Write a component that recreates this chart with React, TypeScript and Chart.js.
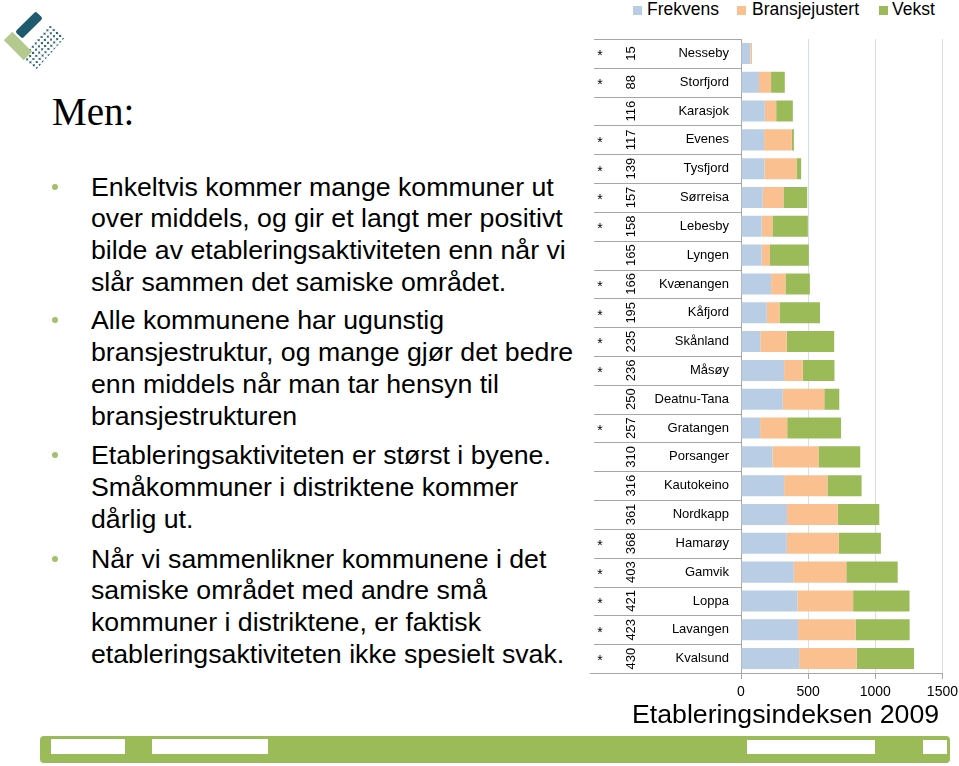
import React, { useEffect, useRef } from "react";
import { Chart, registerables } from "chart.js";

Chart.register(...registerables);

const kommuner = [
  "Nesseby", "Storfjord", "Karasjok", "Evenes", "Tysfjord", "Sørreisa", "Lebesby", "Lyngen",
  "Kvænangen", "Kåfjord", "Skånland", "Måsøy", "Deatnu-Tana", "Gratangen", "Porsanger",
  "Kautokeino", "Nordkapp", "Hamarøy", "Gamvik", "Loppa", "Lavangen", "Kvalsund",
];
const indeks = [15, 88, 116, 117, 139, 157, 158, 165, 166, 195, 235, 236, 250, 257, 310, 316, 361, 368, 403, 421, 423, 430];
const stjerne = [true, true, false, true, true, true, true, false, true, true, true, true, false, true, false, false, false, true, true, true, true, true];
const frekvens = [70, 134, 177, 172, 174, 162, 154, 154, 224, 192, 144, 321, 311, 142, 234, 321, 343, 341, 393, 420, 425, 433];
const bransjejustert = [12, 90, 85, 207, 239, 154, 80, 62, 107, 95, 197, 139, 309, 202, 343, 323, 378, 388, 391, 415, 428, 428];
const vekst = [0, 102, 124, 15, 35, 177, 264, 289, 182, 301, 353, 236, 112, 401, 311, 254, 309, 313, 383, 420, 403, 428];
const xTicks = [0, 500, 1000, 1500];

const seriesNames = ["Frekvens", "Bransjejustert", "Vekst"];
const seriesColors = ["#b9cde5", "#fac090", "#9bbb59"];

const FONT = "'Liberation Sans', Arial, sans-serif";

const tablePlugin = {
  id: "tablePlugin",
  afterDraw(chart: any) {
    const ctx = chart.ctx;
    const y = chart.scales.y;
    const { left, right } = chart.chartArea;
    const step = y.getPixelForValue(1) - y.getPixelForValue(0);
    ctx.save();
    ctx.strokeStyle = "#a6a6a6";
    ctx.lineWidth = 1;
    for (let i = 0; i <= kommuner.length; i++) {
      const yy = Math.round(y.getPixelForValue(i) - step / 2) + 0.5;
      ctx.beginPath();
      ctx.moveTo(i === kommuner.length ? 0 : 4, yy);
      ctx.lineTo(i === kommuner.length ? right : left, yy);
      ctx.stroke();
    }
    ctx.fillStyle = "#000";
    for (let i = 0; i < kommuner.length; i++) {
      const cy = y.getPixelForValue(i);
      ctx.font = `13px ${FONT}`;
      ctx.textAlign = "right";
      ctx.textBaseline = "middle";
      ctx.fillText(kommuner[i], 139, cy);
      if (stjerne[i]) {
        ctx.textAlign = "center";
        ctx.font = `14px ${FONT}`;
        ctx.fillText("*", 10, cy + 3);
      }
      ctx.save();
      ctx.translate(41, cy);
      ctx.rotate(-Math.PI / 2);
      ctx.textAlign = "center";
      ctx.textBaseline = "middle";
      ctx.font = `13px ${FONT}`;
      ctx.fillText(String(indeks[i]), 0, 0);
      ctx.restore();
    }
    ctx.restore();
  },
};

function BarChart() {
  const ref = useRef<HTMLCanvasElement>(null);
  useEffect(() => {
    const data = [frekvens, bransjejustert, vekst];
    const chart = new Chart(ref.current!, {
      type: "bar",
      data: {
        labels: kommuner,
        datasets: seriesNames.map((name, k) => ({
          label: name,
          data: data[k],
          backgroundColor: seriesColors[k],
          borderWidth: 0,
          barPercentage: 0.73,
          categoryPercentage: 1,
        })),
      },
      options: {
        indexAxis: "y",
        responsive: false,
        animation: false,
        events: [],
        layout: { padding: { top: 39, left: 0, right: 0, bottom: 0 } },
        plugins: { legend: { display: false }, tooltip: { enabled: false } },
        scales: {
          x: {
            stacked: true,
            min: 0,
            max: 1500,
            afterBuildTicks: (s: any) => {
              s.ticks = xTicks.map((v) => ({ value: v }));
            },
            afterFit: (s: any) => {
              s.height = 32;
            },
            ticks: {
              font: { family: FONT, size: 14 },
              color: "#000",
              padding: 5,
              maxRotation: 0,
              callback: (v: any) => String(v),
            },
            grid: {
              color: (c: any) => (c.tick && c.tick.value === 0 ? "#a6a6a6" : "#d6dfe9"),
              tickColor: "#a6a6a6",
              tickLength: 6,
              lineWidth: 1,
            },
            border: { display: true, color: "#a6a6a6" },
          },
          y: {
            stacked: true,
            afterFit: (s: any) => {
              s.width = 151;
            },
            ticks: { display: false },
            grid: { display: false },
            border: { display: false },
          },
        },
      },
      plugins: [tablePlugin],
    } as any);
    return () => chart.destroy();
  }, []);
  return (
    <canvas
      ref={ref}
      width={373}
      height={705}
      style={{ position: "absolute", left: 590, top: 0, width: 373, height: 705 }}
    />
  );
}

const punkter = [
  {
    top: 171.5,
    lines: [
      "Enkeltvis kommer mange kommuner ut",
      "over middels, og gir et langt mer positivt",
      "bilde av etableringsaktiviteten enn når vi",
      "slår sammen det samiske området.",
    ],
  },
  {
    top: 305,
    lines: [
      "Alle kommunene har ugunstig",
      "bransjestruktur, og mange gjør det bedre",
      "enn middels når man tar hensyn til",
      "bransjestrukturen",
    ],
  },
  {
    top: 440,
    lines: ["Etableringsaktiviteten er størst i byene.", "Småkommuner i distriktene kommer", "dårlig ut."],
  },
  {
    top: 543.5,
    lines: [
      "Når vi sammenlikner kommunene i det",
      "samiske området med andre små",
      "kommuner i distriktene, er faktisk",
      "etableringsaktiviteten ikke spesielt svak.",
    ],
  },
];

function Logo() {
  return (
    <div style={{ position: "absolute", left: 0, top: 0, width: 70, height: 75 }}>
      <div
        style={{
          position: "absolute",
          left: 43,
          top: 47,
          width: 44,
          height: 20,
          transform: "translate(-50%,-50%) rotate(-48deg)",
          backgroundImage: "radial-gradient(circle, #1d5a6e 0.9px, transparent 1.2px)",
          backgroundSize: "4.4px 4.4px",
        }}
      />
      <div
        style={{
          position: "absolute",
          left: 28.5,
          top: 25.3,
          width: 29,
          height: 10,
          borderRadius: 2,
          background: "#1d5a6e",
          transform: "translate(-50%,-50%) rotate(-45deg)",
        }}
      />
      <div
        style={{
          position: "absolute",
          left: 18.3,
          top: 46.3,
          width: 28,
          height: 12,
          background: "#b3c98d",
          transform: "translate(-50%,-50%) rotate(45deg)",
        }}
      />
    </div>
  );
}

export default function App() {
  const legendPos = [
    { sq: 633, tx: 647 },
    { sq: 737, tx: 752 },
    { sq: 879, tx: 892 },
  ];
  return (
    <div
      style={{
        position: "absolute",
        left: 0,
        top: 0,
        width: 959,
        height: 766,
        background: "#fff",
        overflow: "hidden",
        fontFamily: FONT,
      }}
    >
      <Logo />
      <div
        style={{
          position: "absolute",
          left: 52,
          top: 92.3,
          fontFamily: "'Liberation Serif', 'Times New Roman', serif",
          fontSize: 39,
          lineHeight: "39px",
          color: "#000",
          whiteSpace: "nowrap",
        }}
      >
        Men:
      </div>
      {punkter.map((p, i) => (
        <React.Fragment key={i}>
          <div
            style={{
              position: "absolute",
              left: 52,
              top: p.top + 25.1 - 10 - 3,
              width: 6,
              height: 6,
              borderRadius: 3,
              background: "#a3c16a",
            }}
          />
          <div
            style={{
              position: "absolute",
              left: 91,
              top: p.top,
              fontSize: 26.7,
              lineHeight: "31.9px",
              color: "#000",
              whiteSpace: "nowrap",
            }}
          >
            {p.lines.map((l, j) => (
              <div key={j}>{l}</div>
            ))}
          </div>
        </React.Fragment>
      ))}
      {seriesNames.map((n, i) => (
        <React.Fragment key={n}>
          <div
            style={{
              position: "absolute",
              left: legendPos[i].sq,
              top: 6,
              width: 9,
              height: 9,
              background: seriesColors[i],
            }}
          />
          <div
            style={{
              position: "absolute",
              left: legendPos[i].tx,
              top: 0,
              fontSize: 17.5,
              lineHeight: "18px",
              color: "#000",
              whiteSpace: "nowrap",
            }}
          >
            {n}
          </div>
        </React.Fragment>
      ))}
      <BarChart />
      <div
        style={{
          position: "absolute",
          left: 632,
          top: 701,
          fontSize: 26.7,
          lineHeight: "26px",
          color: "#000",
          whiteSpace: "nowrap",
        }}
      >
        Etableringsindeksen 2009
      </div>
      <div
        style={{
          position: "absolute",
          left: 40,
          top: 736,
          width: 910,
          height: 27,
          borderRadius: 4,
          background: "#9bbb59",
        }}
      />
      {[
        [51, 739, 74, 15],
        [152, 739, 116, 15],
        [747, 740, 128, 14],
        [923, 740, 24, 14],
      ].map((b, i) => (
        <div
          key={i}
          style={{ position: "absolute", left: b[0], top: b[1], width: b[2], height: b[3], background: "#fff" }}
        />
      ))}
    </div>
  );
}
